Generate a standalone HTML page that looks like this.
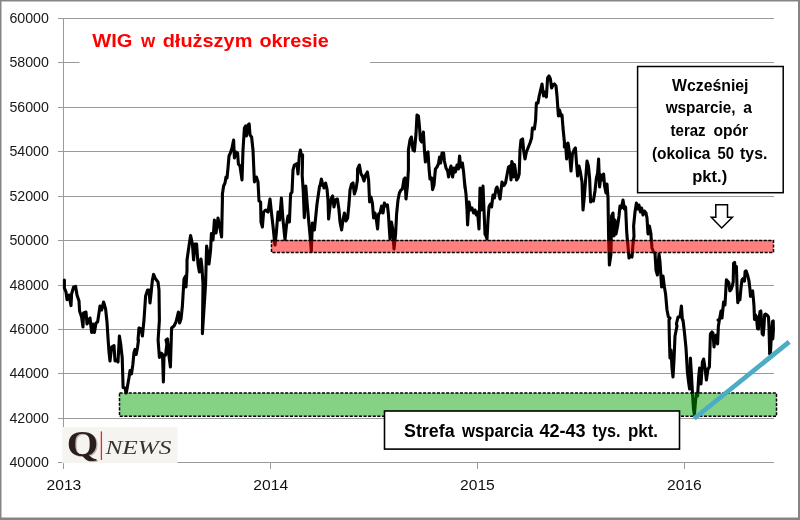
<!DOCTYPE html>
<html lang="pl"><head><meta charset="utf-8"><title>WIG w dłuższym okresie</title>
<style>
html,body{margin:0;padding:0;background:#fff;}
body{width:800px;height:520px;overflow:hidden;}
svg{display:block;will-change:transform;font-family:"Liberation Sans",sans-serif;}
</style></head><body>
<svg width="800" height="520" viewBox="0 0 800 520">
<rect x="0" y="0" width="800" height="520" fill="#fff"/>
<!-- grid -->
<g stroke="#9a9a9a" stroke-width="1" fill="none" shape-rendering="crispEdges">
<line x1="57.5" y1="18.5" x2="773.75" y2="18.5"/>
<line x1="57.5" y1="62.5" x2="773.75" y2="62.5"/>
<line x1="57.5" y1="107.5" x2="773.75" y2="107.5"/>
<line x1="57.5" y1="151.5" x2="773.75" y2="151.5"/>
<line x1="57.5" y1="196.5" x2="773.75" y2="196.5"/>
<line x1="57.5" y1="240.5" x2="773.75" y2="240.5"/>
<line x1="57.5" y1="285.5" x2="773.75" y2="285.5"/>
<line x1="57.5" y1="329.5" x2="773.75" y2="329.5"/>
<line x1="57.5" y1="373.5" x2="773.75" y2="373.5"/>
<line x1="57.5" y1="418.5" x2="773.75" y2="418.5"/>
<line x1="57.5" y1="462.5" x2="773.75" y2="462.5"/>
<line x1="63.5" y1="18" x2="63.5" y2="463"/>
<line x1="63.5" y1="463" x2="63.5" y2="469"/>
<line x1="270.5" y1="463" x2="270.5" y2="469"/>
<line x1="477.5" y1="463" x2="477.5" y2="469"/>
<line x1="684.5" y1="463" x2="684.5" y2="469"/>
</g>
<g font-size="13.8" fill="#1a1a1a">
<text x="48.9" y="23.3" text-anchor="end" textLength="39.5" lengthAdjust="spacingAndGlyphs">60000</text>
<text x="48.9" y="67.3" text-anchor="end" textLength="39.5" lengthAdjust="spacingAndGlyphs">58000</text>
<text x="48.9" y="112.3" text-anchor="end" textLength="39.5" lengthAdjust="spacingAndGlyphs">56000</text>
<text x="48.9" y="156.3" text-anchor="end" textLength="39.5" lengthAdjust="spacingAndGlyphs">54000</text>
<text x="48.9" y="201.3" text-anchor="end" textLength="39.5" lengthAdjust="spacingAndGlyphs">52000</text>
<text x="48.9" y="245.3" text-anchor="end" textLength="39.5" lengthAdjust="spacingAndGlyphs">50000</text>
<text x="48.9" y="290.3" text-anchor="end" textLength="39.5" lengthAdjust="spacingAndGlyphs">48000</text>
<text x="48.9" y="334.3" text-anchor="end" textLength="39.5" lengthAdjust="spacingAndGlyphs">46000</text>
<text x="48.9" y="378.3" text-anchor="end" textLength="39.5" lengthAdjust="spacingAndGlyphs">44000</text>
<text x="48.9" y="423.3" text-anchor="end" textLength="39.5" lengthAdjust="spacingAndGlyphs">42000</text>
<text x="48.9" y="467.3" text-anchor="end" textLength="39.5" lengthAdjust="spacingAndGlyphs">40000</text>
</g>
<g font-size="15.3" fill="#111">
<text x="63.9" y="490" text-anchor="middle" textLength="34.8" lengthAdjust="spacingAndGlyphs">2013</text>
<text x="270.7" y="490" text-anchor="middle" textLength="34.8" lengthAdjust="spacingAndGlyphs">2014</text>
<text x="477.4" y="490" text-anchor="middle" textLength="34.8" lengthAdjust="spacingAndGlyphs">2015</text>
<text x="684.4" y="490" text-anchor="middle" textLength="34.8" lengthAdjust="spacingAndGlyphs">2016</text>
</g>
<!-- title -->
<rect x="79.5" y="24" width="290.5" height="46" fill="#fff"/>
<g font-size="18.2" font-weight="bold" fill="#ff0000">
<text x="92.3" y="47" textLength="40.1" lengthAdjust="spacingAndGlyphs">WIG</text>
<text x="141.0" y="47" textLength="14.2" lengthAdjust="spacingAndGlyphs">w</text>
<text x="162.7" y="47" textLength="89.7" lengthAdjust="spacingAndGlyphs">dłuższym</text>
<text x="259.4" y="47" textLength="69.4" lengthAdjust="spacingAndGlyphs">okresie</text>
</g>
<!-- series -->
<polyline points="64.4,280.0 64.4,288.0 66.0,292.0 67.0,299.6 69.0,295.0 71.0,305.6 71.6,294.0 73.6,287.0 75.6,286.4 77.0,295.0 79.0,301.0 79.6,311.0 81.6,317.0 83.0,327.0 83.6,313.0 86.0,312.0 87.0,324.0 90.0,318.0 91.6,332.4 93.0,324.0 94.4,332.4 96.0,323.0 97.6,322.0 99.0,313.0 100.0,306.0 101.6,310.0 103.6,302.0 105.6,309.0 107.0,322.0 108.0,338.0 109.0,352.0 110.0,361.0 111.6,347.0 114.0,345.6 115.0,361.0 117.0,360.0 118.0,362.0 119.4,336.0 121.0,346.0 120.6,343.8 122.2,357.5 123.1,387.5 125.0,388.1 126.2,393.1 127.5,386.2 129.0,377.5 130.0,370.6 131.5,373.8 132.8,365.0 134.0,352.5 135.0,349.4 136.2,354.4 137.5,347.5 138.5,340.0 138.0,340.0 139.0,328.0 141.0,329.0 142.4,336.0 144.0,320.0 145.6,296.0 147.6,290.0 149.0,290.0 150.0,303.0 151.0,294.0 152.4,280.0 153.6,274.4 155.6,279.0 158.0,282.0 159.0,290.0 159.4,320.0 158.1,340.0 159.4,357.5 161.2,353.1 162.5,354.4 163.4,381.9 164.0,356.2 165.6,355.0 166.9,343.8 166.0,340.0 167.4,339.0 169.0,356.0 170.4,367.0 171.6,328.0 174.0,326.0 176.0,322.0 178.4,312.0 179.6,323.0 181.0,319.0 182.4,306.0 184.0,279.0 185.6,276.0 186.0,287.0 187.0,270.0 187.0,260.0 189.0,246.0 190.6,235.6 192.4,244.0 193.6,260.0 195.0,244.0 196.6,244.0 198.0,264.0 199.4,272.0 201.0,259.0 202.0,268.0 203.0,284.0 202.4,333.6 205.6,284.0 206.6,246.0 208.0,254.0 209.0,264.0 210.6,250.0 211.4,233.6 213.0,240.0 214.4,220.0 216.0,233.0 218.0,218.0 219.6,226.0 221.6,237.0 222.4,200.0 222.4,194.0 223.6,186.0 225.0,183.0 226.0,177.0 227.0,178.0 228.0,168.0 229.0,156.0 230.4,153.0 232.0,148.0 233.6,140.0 234.4,158.0 236.0,152.0 237.6,153.0 238.4,164.0 240.0,166.0 242.0,180.0 243.0,150.0 244.4,128.0 245.6,126.0 246.4,136.0 248.0,125.0 249.2,124.0 250.0,135.0 251.6,137.0 253.0,150.0 254.4,182.0 256.4,177.0 258.0,182.0 259.0,201.0 260.6,202.0 261.0,222.0 262.4,227.0 263.6,212.0 265.6,210.0 268.0,212.0 270.0,199.0 271.6,214.0 273.0,226.0 274.4,240.0 275.0,245.0 276.4,232.0 278.0,212.0 279.6,220.0 281.4,198.0 283.0,220.0 284.0,230.0 285.0,239.6 286.4,226.0 288.0,216.0 289.4,222.0 290.6,194.0 292.0,192.0 293.0,170.0 294.4,165.0 297.0,163.6 298.0,174.0 299.4,155.0 300.4,150.0 301.4,156.0 302.6,155.0 302.2,175.4 303.3,192.3 304.3,217.7 305.8,186.0 307.1,202.9 308.6,219.8 310.0,234.6 311.3,251.5 312.4,223.0 314.4,230.0 317.0,204.0 319.6,186.0 320.0,186.0 321.4,179.0 323.0,186.0 324.4,187.0 324.0,188.0 325.6,183.0 327.0,189.0 328.0,200.0 328.6,219.0 330.0,206.0 331.4,198.0 332.6,196.0 334.0,207.0 335.4,200.0 337.4,199.0 339.0,210.0 340.0,222.0 341.6,230.0 343.0,220.0 344.4,213.0 346.0,221.0 347.6,218.0 349.0,204.0 350.0,190.0 351.6,184.0 353.0,183.0 354.4,194.0 356.0,189.0 357.4,180.0 357.6,169.0 359.4,165.0 361.0,174.0 362.4,176.0 364.0,181.0 365.6,175.0 367.4,172.0 368.6,180.0 369.6,202.0 371.0,197.0 372.4,203.0 373.6,218.0 375.0,213.0 376.4,220.0 377.6,229.0 378.6,214.0 380.0,213.0 381.6,206.0 383.0,213.0 384.4,203.0 386.0,206.0 387.4,205.0 388.4,214.0 389.4,230.0 390.0,239.0 391.4,222.0 392.6,228.0 394.0,249.0 395.6,234.0 396.6,214.0 398.0,200.0 399.4,193.0 401.0,190.0 402.4,189.0 404.0,179.0 405.0,178.0 406.0,199.0 407.4,186.0 408.4,170.0 408.4,150.0 410.0,140.0 411.4,137.0 413.0,150.0 414.4,151.0 416.0,134.0 417.0,115.0 418.4,116.0 419.6,128.0 420.4,140.0 421.6,142.0 423.4,132.0 424.4,150.0 425.4,162.0 426.4,153.0 428.0,152.0 429.0,168.0 430.0,179.0 431.6,178.0 432.6,189.6 434.0,185.0 435.4,169.0 437.0,167.0 438.4,164.0 439.6,157.0 440.6,163.0 442.0,153.0 443.6,153.0 444.4,161.0 446.0,168.0 447.6,171.0 448.6,177.0 449.6,171.0 451.0,166.0 452.6,177.0 454.0,168.0 455.4,172.0 457.0,165.0 458.4,169.0 459.6,156.0 460.6,167.0 462.4,163.0 463.6,172.0 465.0,188.0 464.4,181.0 466.0,194.0 467.0,210.0 467.6,225.0 469.0,202.0 470.4,210.0 472.0,208.0 473.6,213.0 475.0,210.0 476.4,215.0 477.6,212.0 479.0,229.0 480.0,188.0 481.4,210.0 483.0,186.0 484.0,210.0 485.0,234.0 486.0,236.0 487.0,239.0 488.0,220.0 489.0,207.0 490.4,204.0 491.6,207.0 493.0,195.0 494.4,198.0 496.0,189.0 497.0,187.0 498.4,192.0 500.0,199.0 502.0,182.0 504.0,185.5 505.5,183.0 507.0,175.0 508.5,167.0 510.0,166.0 511.0,180.0 511.8,161.5 513.0,165.0 513.5,177.0 514.5,164.5 515.5,171.0 516.5,180.0 518.0,178.0 519.2,174.0 520.0,150.0 521.0,140.0 521.0,140.0 522.6,139.0 523.6,150.0 525.0,159.0 526.4,152.0 528.0,148.0 530.0,143.0 531.6,138.0 532.4,128.0 534.4,129.0 535.6,120.0 536.4,103.0 538.0,103.0 539.0,97.0 540.6,90.0 542.0,84.0 543.6,96.0 545.0,92.0 546.4,97.0 547.6,78.0 549.0,76.0 550.4,79.0 551.6,88.0 553.0,85.0 554.4,84.0 556.0,86.0 557.0,96.0 558.4,116.0 559.6,110.0 561.0,116.0 562.0,115.0 563.0,128.0 564.4,142.0 564.4,147.0 565.6,144.0 566.6,159.0 568.0,143.0 569.4,152.0 571.0,171.0 572.4,154.0 574.0,150.0 575.4,148.0 576.6,164.0 577.6,176.0 579.0,166.0 580.4,172.0 582.0,182.0 583.0,210.0 584.4,196.0 585.6,180.0 587.0,161.0 588.4,166.0 589.6,178.0 590.6,202.0 592.0,200.0 593.4,201.0 595.0,191.0 596.4,178.0 597.6,173.0 598.6,159.0 599.6,187.0 601.0,175.0 602.4,180.0 603.6,174.0 604.6,186.0 606.0,193.0 607.0,184.0 608.0,198.0 608.6,236.0 609.4,265.0 611.0,254.0 611.6,216.0 613.0,213.0 614.0,236.0 615.0,220.0 616.0,234.0 617.6,226.0 619.0,216.0 620.0,206.0 621.4,208.0 623.0,200.0 624.4,209.0 625.6,207.0 626.6,230.0 627.0,236.0 628.0,246.0 629.0,258.0 630.6,256.0 632.0,257.0 633.0,244.0 634.0,236.0 633.6,226.0 635.0,212.0 636.4,203.0 637.6,209.0 639.0,205.0 640.4,212.0 641.6,208.0 643.0,215.0 644.4,211.0 646.0,213.0 647.0,218.0 648.0,234.0 649.4,226.0 651.0,234.0 651.0,236.0 652.0,248.0 653.6,252.0 655.0,253.0 656.0,270.0 657.4,275.0 659.0,254.0 660.0,262.0 661.6,287.0 663.0,276.0 664.4,287.0 665.6,294.0 667.0,310.0 668.4,317.0 670.0,318.0 669.0,320.0 669.4,340.0 670.0,358.0 671.0,350.0 672.0,368.0 673.0,377.0 674.0,360.0 675.0,336.0 677.0,326.0 676.4,324.0 678.0,317.0 680.0,317.0 681.4,306.0 682.4,320.0 683.0,320.0 684.4,332.0 686.0,348.0 687.4,372.0 688.6,382.0 689.6,389.0 690.4,358.0 691.4,374.0 692.4,392.0 693.4,408.0 694.4,415.0 695.6,400.0 696.6,394.0 697.6,396.0 698.6,378.0 699.6,368.0 701.0,384.0 702.4,362.0 703.6,359.0 705.0,368.0 706.4,380.0 708.0,369.0 709.4,367.0 710.4,334.0 712.0,332.0 713.0,333.0 714.0,347.0 715.0,338.0 716.4,335.0 717.6,344.0 718.4,326.0 719.4,320.0 718.0,320.0 719.6,319.0 721.0,311.0 722.0,318.0 723.6,302.0 725.0,305.0 726.4,279.8 727.7,281.2 728.8,282.6 729.8,290.9 731.1,289.5 732.3,286.0 733.2,281.9 733.6,263.2 734.6,262.5 735.4,272.2 736.4,266.6 737.1,288.8 737.8,302.6 738.8,297.1 739.9,299.9 740.9,288.8 742.0,279.8 743.3,278.4 744.5,281.2 745.1,271.5 746.1,270.8 747.5,274.9 748.9,280.5 749.9,288.8 750.5,296.4 751.6,291.6 752.6,290.9 753.5,299.9 754.0,306.0 754.5,319.5 755.5,315.0 756.5,317.0 757.5,328.5 758.5,329.0 759.2,318.0 760.0,311.5 760.8,311.0 761.5,320.0 762.2,334.0 763.2,335.0 764.0,326.0 764.7,314.5 765.5,314.0 767.0,315.0 768.5,317.0 769.0,328.0 769.7,354.0 770.5,352.0 771.5,333.0 772.5,321.5 773.2,321.0 773.4,330.0 772.8,339.0" fill="none" stroke="#000" stroke-width="3.1" stroke-linejoin="round" stroke-linecap="round"/>
<!-- zones -->
<rect x="271.5" y="240.5" width="502" height="12" fill="rgba(255,0,0,0.5)" stroke="#000" stroke-width="1.5" stroke-dasharray="3.1 1.5"/>
<rect x="119.5" y="393" width="657" height="23.3" fill="rgba(0,160,0,0.48)" stroke="#000" stroke-width="1.5" stroke-dasharray="3.1 1.5"/>
<!-- trend line -->
<line x1="694.2" y1="418.5" x2="789.2" y2="341.9" stroke="#4bacc6" stroke-width="4.8"/>
<!-- label box bottom -->
<rect x="384.5" y="411" width="295" height="38.1" fill="#fff" stroke="#000" stroke-width="1.6"/>
<g font-size="17.6" font-weight="bold" fill="#000">
<text x="404.0" y="436.8" textLength="50.6" lengthAdjust="spacingAndGlyphs">Strefa</text>
<text x="462.0" y="436.8" textLength="71.4" lengthAdjust="spacingAndGlyphs">wsparcia</text>
<text x="539.4" y="436.8" textLength="46.2" lengthAdjust="spacingAndGlyphs">42-43</text>
<text x="592.6" y="436.8" textLength="28.0" lengthAdjust="spacingAndGlyphs">tys.</text>
<text x="628.0" y="436.8" textLength="30.0" lengthAdjust="spacingAndGlyphs">pkt.</text>
</g>
<!-- annotation box -->
<rect x="637.6" y="66.5" width="145.6" height="126.2" fill="#fff" stroke="#000" stroke-width="1.5"/>
<g font-size="16.4" font-weight="bold" fill="#000">
<text x="672.0" y="90.7" textLength="76.5" lengthAdjust="spacingAndGlyphs">Wcześniej</text>
<text x="665.7" y="112.9" textLength="69.7" lengthAdjust="spacingAndGlyphs">wsparcie,</text>
<text x="743.3" y="112.9" textLength="8.7" lengthAdjust="spacingAndGlyphs">a</text>
<text x="670.6" y="135.6" textLength="35.0" lengthAdjust="spacingAndGlyphs">teraz</text>
<text x="713.5" y="135.6" textLength="34.7" lengthAdjust="spacingAndGlyphs">opór</text>
<text x="651.9" y="158.5" textLength="58.5" lengthAdjust="spacingAndGlyphs">(okolica</text>
<text x="717.5" y="158.5" textLength="16.5" lengthAdjust="spacingAndGlyphs">50</text>
<text x="740.1" y="158.5" textLength="27.3" lengthAdjust="spacingAndGlyphs">tys.</text>
<text x="692.2" y="182.0" textLength="35.0" lengthAdjust="spacingAndGlyphs">pkt.)</text>
</g>
<!-- arrow -->
<path d="M715.8 204.8 H727.5 V217.3 H732.4 L721.7 228.0 L711.3 217.3 H715.8 Z" fill="#fff" stroke="#000" stroke-width="1.5" stroke-linejoin="miter"/>
<!-- logo -->
<rect x="62.2" y="427" width="115.3" height="36.1" fill="#f6f4f0"/>
<g font-family="'Liberation Serif',serif">
<text x="68.0" y="457.0" font-size="36.5" font-weight="bold" fill="#b9b2ac" textLength="31.5" lengthAdjust="spacingAndGlyphs">Q</text>
<text x="66.8" y="455.8" font-size="36.5" font-weight="bold" fill="#2a1f1b" textLength="31.5" lengthAdjust="spacingAndGlyphs">Q</text>
<text x="105.5" y="454.2" font-size="19.8" font-style="italic" fill="#3a322e" textLength="66" lengthAdjust="spacingAndGlyphs">NEWS</text>
</g>
<line x1="101.4" y1="431.4" x2="101.4" y2="460" stroke="#e02a2a" stroke-width="1.3"/>
<!-- outer border -->
<rect x="0.75" y="0.75" width="798" height="518" fill="none" stroke="#858585" stroke-width="1.5"/>
<rect x="0" y="517.5" width="800" height="2.5" fill="#858585"/>
<rect x="798" y="0" width="2" height="520" fill="#858585"/>
</svg>
</body></html>
